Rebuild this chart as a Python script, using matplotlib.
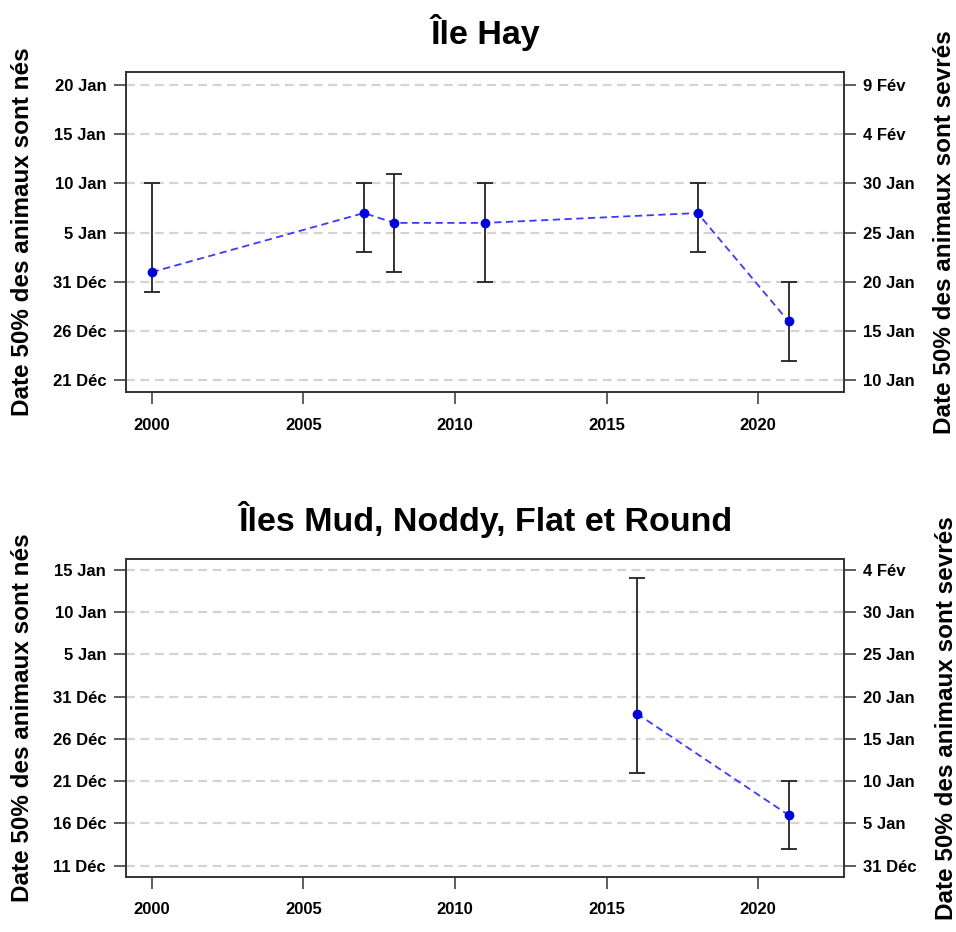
import matplotlib
matplotlib.use("Agg")
import matplotlib.pyplot as plt

plt.rcParams['font.family'] = ['Liberation Sans', 'DejaVu Sans']
plt.rcParams['font.weight'] = 'bold'

# Jours par rapport au 31 Déc (0 = 31 Déc), sevrage = naissance + 20 jours
years_hay = [2000, 2007, 2008, 2011, 2018, 2021]
birth_hay = [1, 7, 6, 6, 7, -4]
low_hay = [-1, 3, 1, 0, 3, -8]
high_hay = [10, 10, 11, 10, 10, 0]

years_mud = [2016, 2021]
birth_mud = [-2, -14]
low_mud = [-9, -18]
high_mud = [14, -10]

ticks_hay = [-10, -5, 0, 5, 10, 15, 20]
labels_hay_nes = ['21 Déc', '26 Déc', '31 Déc', '5 Jan', '10 Jan', '15 Jan', '20 Jan']
labels_hay_sevres = ['10 Jan', '15 Jan', '20 Jan', '25 Jan', '30 Jan', '4 Fév', '9 Fév']

ticks_mud = [-20, -15, -10, -5, 0, 5, 10, 15]
labels_mud_nes = ['11 Déc', '16 Déc', '21 Déc', '26 Déc', '31 Déc', '5 Jan', '10 Jan', '15 Jan']
labels_mud_sevres = ['31 Déc', '5 Jan', '10 Jan', '15 Jan', '20 Jan', '25 Jan', '30 Jan', '4 Fév']

x_ticks = [2000, 2005, 2010, 2015, 2020]

W, H = 956, 932
fig = plt.figure(figsize=(W / 100, H / 100), dpi=100)


def panel(rect, title, years, mid, lo, hi, ticks, lab_l, lab_r, ylim):
    ax = fig.add_axes(rect)
    ax.set_xlim(1999.16, 2022.84)
    ax.set_ylim(*ylim)
    for t in ticks:
        ax.axhline(t, color='#d3d3d3', lw=1.6, ls=(0, (4, 2.5)), zorder=0)
    ax.plot(years, mid, color='#3a3aff', lw=1.3, ls=(0, (4, 2.5)), zorder=2)
    yerr = [[m - l for m, l in zip(mid, lo)], [h - m for m, h in zip(mid, hi)]]
    ax.errorbar(years, mid, yerr=yerr, fmt='none', ecolor='#222222', elinewidth=1.3,
                capsize=6, capthick=1.3, zorder=3)
    ax.plot(years, mid, 'o', color='#0000dd', ms=6, zorder=4)

    ax.set_xticks(x_ticks)
    ax.set_yticks(ticks)
    ax.set_yticklabels(lab_l)
    ax.tick_params(length=8.5, width=1.1, color='#333333', labelsize=12, pad=6)
    ax.tick_params(axis='x', pad=10)
    for s in ax.spines.values():
        s.set_linewidth(1.2)
        s.set_color('#333333')
    ax.set_ylabel('Date 50% des animaux sont nés', fontsize=17.5, fontweight='bold', labelpad=13)
    ax.set_title(title, fontsize=24.5, fontweight='bold', pad=20)

    ax2 = ax.twinx()
    ax2.set_ylim(ax.get_ylim())
    ax2.set_yticks(ticks)
    ax2.set_yticklabels(lab_r)
    ax2.tick_params(length=8.5, width=1.1, color='#333333', labelsize=12, pad=5)
    for s in ax2.spines.values():
        s.set_linewidth(1.2)
        s.set_color('#333333')
    ax2.set_ylabel('Date 50% des animaux sont sevrés', fontsize=17.5, fontweight='bold',
                   rotation=90, labelpad=13)
    return ax


panel([126.3 / W, 1 - 392.3 / H, 718 / W, 320.6 / H], 'Île Hay',
      years_hay, birth_hay, low_hay, high_hay,
      ticks_hay, labels_hay_nes, labels_hay_sevres, (-11.2, 21.35))

panel([126.3 / W, 1 - 876.7 / H, 718 / W, 317.7 / H], 'Îles Mud, Noddy, Flat et Round',
      years_mud, birth_mud, low_mud, high_mud,
      ticks_mud, labels_mud_nes, labels_mud_sevres, (-21.3, 16.3))

fig.savefig('out.png', dpi=100)
